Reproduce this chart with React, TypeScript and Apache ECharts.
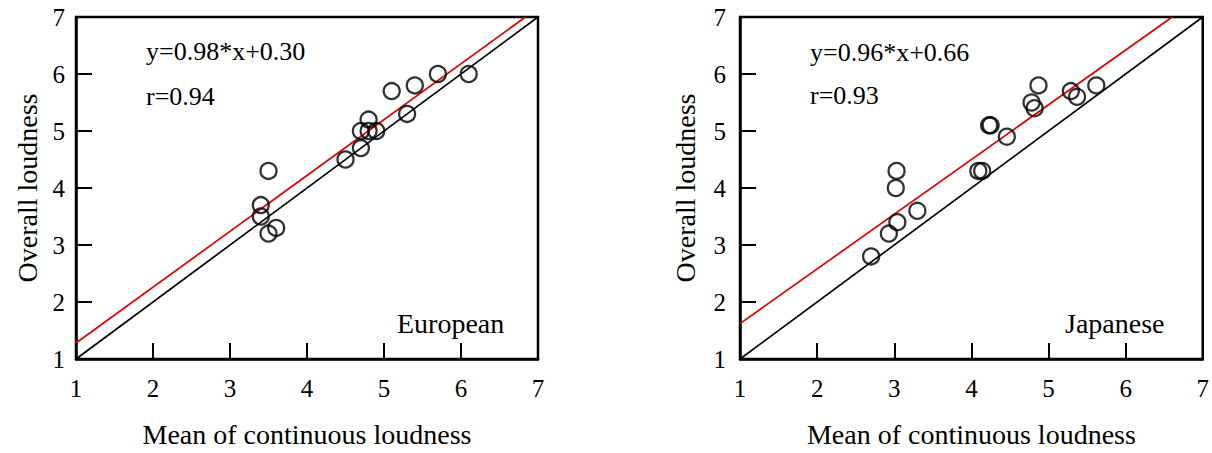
import React, { useEffect, useRef } from "react";
import * as echarts from "echarts";

// European listeners: [mean of continuous loudness, overall loudness]
const europeanPoints: number[][] = [
  [3.5, 4.3], [3.4, 3.7], [3.4, 3.5], [3.6, 3.3], [3.5, 3.2],
  [4.5, 4.5], [4.7, 4.7], [4.7, 5.0], [4.8, 5.2], [4.8, 5.0],
  [4.9, 5.0], [5.1, 5.7], [5.3, 5.3], [5.4, 5.8], [5.7, 6.0],
  [6.1, 6.0],
];
// Japanese listeners
const japanesePoints: number[][] = [
  [2.7, 2.8], [2.93, 3.2], [3.04, 3.4], [3.02, 4.0], [3.03, 4.3],
  [3.3, 3.6], [4.09, 4.3], [4.14, 4.3], [4.23, 5.1], [4.25, 5.1],
  [4.46, 4.9], [4.78, 5.5], [4.82, 5.4], [4.87, 5.8], [5.29, 5.7],
  [5.37, 5.6], [5.62, 5.8],
];
const europeanFit = { slope: 0.98, intercept: 0.3, r: 0.94 };
const japaneseFit = { slope: 0.96, intercept: 0.66, r: 0.93 };
const axisMin = 1;
const axisMax = 7;
const xTitle = "Mean of continuous loudness";
const yTitle = "Overall loudness";
const groupLabels = ["European", "Japanese"];

const FONT = "Liberation Serif";

function fitLine(fit: { slope: number; intercept: number }) {
  const x0 = axisMin;
  const y0 = fit.slope * x0 + fit.intercept;
  const x1 = Math.min(axisMax, (axisMax - fit.intercept) / fit.slope);
  const y1 = fit.slope * x1 + fit.intercept;
  return [[x0, y0], [x1, y1]];
}

export default function App() {
  const ref = useRef<HTMLDivElement>(null);
  useEffect(() => {
    if (!ref.current) return;
    const chart = echarts.init(ref.current, undefined, { renderer: "svg" });
    const grids = [
      { left: 76, top: 17, width: 462, height: 350 },
      { left: 740, top: 17, width: 468, height: 351 },
    ];
    const mkTick = () => ({ show: true, inside: true, length: 16, lineStyle: { color: "#000", width: 2 } });
    const mkX = (i: number) => ({
      type: "value",
      gridIndex: i,
      min: axisMin,
      max: axisMax,
      interval: 1,
      name: xTitle,
      nameLocation: "middle",
      nameGap: 61,
      nameTextStyle: { fontFamily: FONT, fontSize: 28, color: "#000" },
      axisLine: { show: true, lineStyle: { color: "#000", width: 2.5 } },
      axisTick: mkTick(),
      axisLabel: { fontFamily: FONT, fontSize: 25, color: "#000", margin: 17 },
      splitLine: { show: false },
    });
    const mkY = (i: number, gap: number, lm: number) => ({
      type: "value",
      gridIndex: i,
      min: axisMin,
      max: axisMax,
      interval: 1,
      name: yTitle,
      nameLocation: "middle",
      nameGap: gap,
      nameTextStyle: { fontFamily: FONT, fontSize: 28, color: "#000" },
      axisLine: { show: true, lineStyle: { color: "#000", width: 2.5 } },
      axisTick: mkTick(),
      axisLabel: { fontFamily: FONT, fontSize: 25, color: "#000", margin: lm },
      splitLine: { show: false },
    });
    const scatter = (pts: number[][], i: number) => ({
      type: "scatter",
      xAxisIndex: i,
      yAxisIndex: i,
      data: pts,
      symbol: "circle",
      symbolSize: 16,
      itemStyle: { color: "rgba(0,0,0,0)", borderColor: "#000", borderWidth: 2.3 },
      z: 5,
    });
    const line = (data: number[][], i: number, color: string) => ({
      type: "line",
      xAxisIndex: i,
      yAxisIndex: i,
      data,
      symbol: "none",
      lineStyle: { color, width: 1.7 },
      z: 3,
    });
    const txt = (x: number, y: number, text: string, size: number) => ({
      type: "text",
      x,
      y,
      style: {
        text,
        fontFamily: FONT,
        fontSize: size,
        fill: "#000",
        verticalAlign: "middle",
      },
      z: 10,
    });
    const eqText = (f: { slope: number; intercept: number }) =>
      `y=${f.slope.toFixed(2)}*x+${f.intercept.toFixed(2)}`;
    chart.setOption({
      animation: false,
      grid: grids.map((g) => ({
        ...g,
        show: true,
        borderColor: "#000",
        borderWidth: 2.5,
      })),
      xAxis: [mkX(0), mkX(1)],
      yAxis: [mkY(0, 35, 11), mkY(1, 41, 14)],
      series: [
        line([[axisMin, axisMin], [axisMax, axisMax]], 0, "#000"),
        line(fitLine(europeanFit), 0, "#e00000"),
        scatter(europeanPoints, 0),
        line([[axisMin, axisMin], [axisMax, axisMax]], 1, "#000"),
        line(fitLine(japaneseFit), 1, "#e00000"),
        scatter(japanesePoints, 1),
      ],
      graphic: [
        txt(146, 51, eqText(europeanFit), 26),
        txt(146, 96, `r=${europeanFit.r.toFixed(2)}`, 26),
        txt(397, 323, groupLabels[0], 28),
        txt(810, 52, eqText(japaneseFit), 26),
        txt(810, 95, `r=${japaneseFit.r.toFixed(2)}`, 26),
        txt(1065, 323, groupLabels[1], 28),
      ],
    });
    return () => chart.dispose();
  }, []);
  return (
    <div
      ref={ref}
      style={{ position: "fixed", left: 0, top: 0, width: 1212, height: 453, background: "#fff" }}
    />
  );
}
